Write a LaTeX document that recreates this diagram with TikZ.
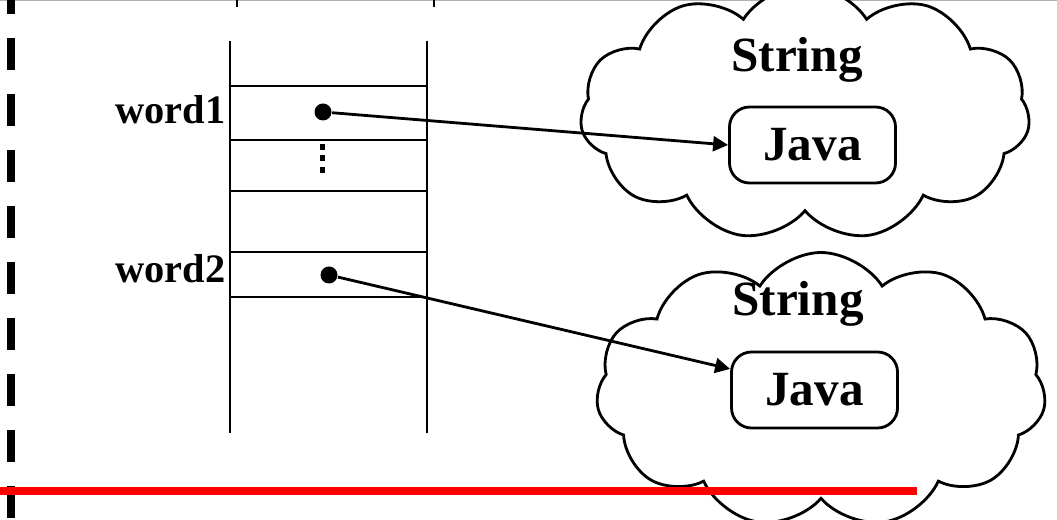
\documentclass[tikz,border=0pt]{standalone}
\usepackage{fontspec}
\setmainfont{Liberation Serif}
\usepackage{tikz}
\usetikzlibrary{arrows.meta,shapes.symbols}

\begin{document}
\begin{tikzpicture}[every node/.style={font=\bfseries}, >={Triangle[length=1.5mm,width=1.5mm]},
	lab/.style={font=\fontsize{11.5}{13}\selectfont\bfseries, anchor=east, inner sep=0pt},
	obj/.style={cloud, cloud puffs=11, cloud puff arc=115, draw, thick, fill=white, minimum width=4.5cm, minimum height=2.55cm},
	val/.style={draw, thick, rounded corners=2mm, minimum width=1.66cm, minimum height=0.76cm, font=\fontsize{14}{16}\selectfont\bfseries},
	ref/.style={circle, fill=black, inner sep=0pt, minimum size=1.7mm}]
	\useasboundingbox (0,0) rectangle (10.57,5.20);
	\clip (0,0) rectangle (10.57,5.20);
	% frame bits left from the page
	\draw[gray!60, thick] (0,5.20) -- (10.57,5.20);
	\foreach \x in {2.37,4.34} {\draw[thick] (\x,5.20) -- (\x,5.13);}
	\draw[line width=2.3pt, dash pattern=on 3.2mm off 2.4mm] (0.11,5.38) -- (0.11,-0.1);
	% the stack frame
	\draw[thick] (2.30,4.79) -- (2.30,0.87) (4.27,4.79) -- (4.27,0.87);
	\foreach \y in {4.34,3.80,3.29,2.68,2.23} {\draw[thick] (2.30,\y) -- (4.27,\y);}
	\node[lab] (w1) at (2.26,4.10) {word1};
	\node[lab] (w2) at (2.26,2.51) {word2};
	\node[ref] (p1) at (3.23,4.08) {};
	\node[ref] (p2) at (3.29,2.45) {};
	\foreach \y in {3.70,3.59,3.47} {\fill (3.195,\y) rectangle (3.245,\y+0.055);}
	% the two objects on the heap
	\node[obj] (c1) at (8.05,4.07) {};
	\node[obj, minimum height=2.75cm] (c2) at (8.21,1.30) {};
	\node[anchor=base, font=\fontsize{14}{16}\selectfont\bfseries] (s1) at (7.97,4.48) {String};
	\node[anchor=base, font=\fontsize{14}{16}\selectfont\bfseries] (s2) at (7.98,2.04) {String};
	\node[val] (j1) at (8.125,3.75) {Java};
	\node[val] (j2) at (8.145,1.30) {Java};
	\draw[->, thick] (p1) -- (j1.west);
	\draw[->, thick] (p2) -- (j2.166);
	\draw[red, line width=2.3pt] (0,0.29) -- (9.17,0.29);
\end{tikzpicture}
\end{document}
